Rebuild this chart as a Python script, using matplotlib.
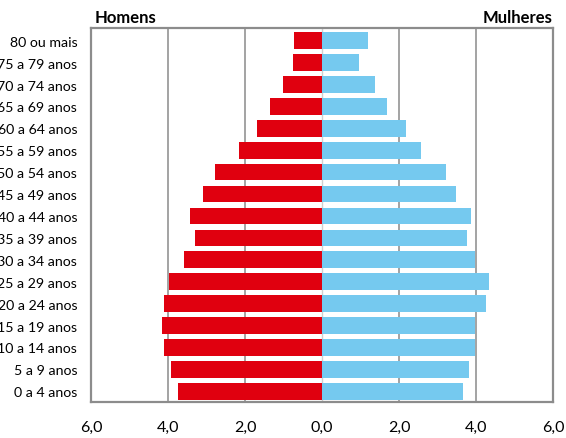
import numpy as np
import matplotlib
matplotlib.use("Agg")
import matplotlib.pyplot as plt

plt.rcParams['font.family'] = ['Lato', 'DejaVu Sans']

# age groups, bottom to top
faixas = ["0 a 4 anos", "5 a 9 anos", "10 a 14 anos", "15 a 19 anos",
          "20 a 24 anos", "25 a 29 anos", "30 a 34 anos", "35 a 39 anos",
          "40 a 44 anos", "45 a 49 anos", "50 a 54 anos", "55 a 59 anos",
          "60 a 64 anos", "65 a 69 anos", "70 a 74 anos", "75 a 79 anos",
          "80 ou mais"]
homens = [3.73, 3.92, 4.11, 4.17, 4.11, 3.98, 3.59, 3.30, 3.44, 3.10,
          2.79, 2.16, 1.70, 1.35, 1.02, 0.75, 0.72]
mulheres = [3.66, 3.81, 3.98, 3.98, 4.26, 4.35, 3.98, 3.76, 3.87, 3.49,
            3.23, 2.57, 2.17, 1.68, 1.37, 0.97, 1.19]
xticks = [-6, -4, -2, 0, 2, 4, 6]
xtick_labels = ["6,0", "4,0", "2,0", "0,0", "2,0", "4,0", "6,0"]

RED = "#e0000f"
BLUE = "#75c9ef"

fig = plt.figure(figsize=(5.66, 4.39), dpi=100)
ax = fig.add_axes([0.161, 0.083, 0.816, 0.85])

y = np.arange(len(faixas))
ax.barh(y, -np.array(homens), height=0.76, color=RED, zorder=3)
ax.barh(y, mulheres, height=0.76, color=BLUE, zorder=3)

ax.set_xlim(-6, 6)
ax.set_ylim(-0.47, len(faixas) - 0.44)
ax.set_xticks(xticks)
ax.set_xticklabels(xtick_labels, fontsize=11.5)
ax.set_yticks(y)
ax.set_yticklabels(faixas, fontsize=10.2)
ax.tick_params(axis="both", length=0)
ax.tick_params(axis="x", pad=13)
ax.tick_params(axis="y", pad=10)

for xv in [-4, -2, 2, 4]:
    ax.axvline(xv, color="#8a8a8a", lw=1.1, zorder=1)
ax.axvline(0, color="#d0d0d0", lw=1.0, zorder=1)

for s in ax.spines.values():
    s.set_color("#8c8c8c")
    s.set_linewidth(1.6)

fig.text(0.168, 0.96, "Homens", fontsize=12, fontweight="bold", ha="left", va="center")
fig.text(0.977, 0.96, "Mulheres", fontsize=12, fontweight="bold", ha="right", va="center")

fig.savefig("out.png", dpi=100)
